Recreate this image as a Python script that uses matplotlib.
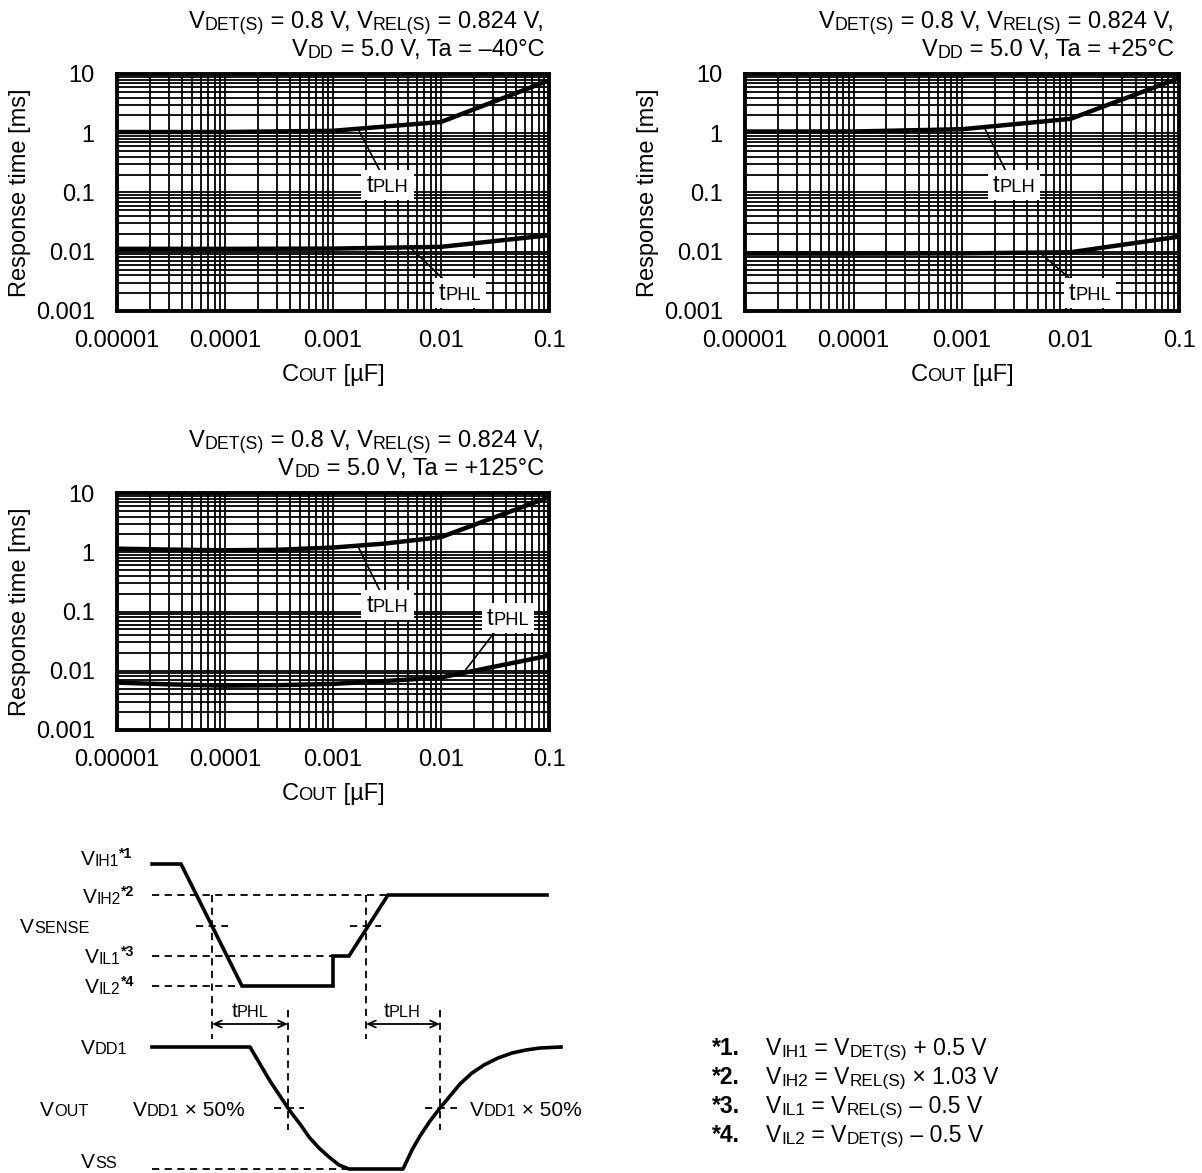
import numpy as np
import matplotlib
matplotlib.use('Agg')
import matplotlib.pyplot as plt
from matplotlib.font_manager import FontProperties
from matplotlib.transforms import IdentityTransform
from matplotlib.ticker import LogLocator, NullFormatter
from matplotlib.patches import Rectangle

FONT = 'Liberation Sans'
plt.rcParams['font.family'] = [FONT, 'DejaVu Sans']

W, H, DPI = 1202, 1173, 100

# ---------------- data ----------------
cout = [1e-5, 1e-4, 1e-3, 1e-2, 1e-1]
tplh_m40 = [1.05, 1.05, 1.1, 1.55, 7.8]
tphl_m40 = [0.0112, 0.0112, 0.0113, 0.0121, 0.019]
tplh_25 = [1.07, 1.07, 1.17, 1.75, 8.5]
tphl_25 = [0.0093, 0.0093, 0.0094, 0.0098, 0.018]
cout_125 = [1e-5, 3e-5, 1e-4, 3e-4, 1e-3, 3e-3, 1e-2, 1e-1]
tplh_125 = [1.15, 1.11, 1.08, 1.1, 1.2, 1.4, 1.8, 8.5]
tphl_125 = [0.0063, 0.0059, 0.0056, 0.0057, 0.006, 0.0067, 0.0077, 0.018]

xticks = [1e-5, 1e-4, 1e-3, 1e-2, 1e-1]
xticklabels = ['0.00001', '0.0001', '0.001', '0.01', '0.1']
yticks = [1e-3, 1e-2, 1e-1, 1, 10]
yticklabels = ['0.001', '0.01', '0.1', '1', '10']
temps = ['–40°C', '+25°C', '+125°C']

# waveform (schematic, pixel units)
vin_x = [152, 181, 242, 333, 333, 349, 388, 547]
vin_y = [864, 864, 986, 986, 956, 956, 895, 895]
vout_x = [152, 250, 260, 270, 280, 290, 300, 309, 319, 329, 339, 349,
          403, 412, 420, 430, 440, 450, 460, 472, 484, 498, 512, 526, 540, 561]
vout_y = [1047, 1047, 1064, 1081, 1096, 1111, 1124, 1137, 1148, 1157, 1165, 1169,
          1169, 1150, 1136, 1121, 1108, 1096, 1084, 1073, 1065, 1058, 1053, 1050, 1048, 1047]

fig = plt.figure(figsize=(W / DPI, H / DPI), dpi=DPI)
R = fig.canvas.get_renderer()


def _w(s, prop):
    a = R.get_text_width_height_descent('H' + s + 'H', prop, ismath=False)[0]
    b = R.get_text_width_height_descent('HH', prop, ismath=False)[0]
    return a - b


STY = {'n': (1.0, 'normal', 0.0), 's': (0.75, 'normal', -0.07),
       'c': (0.78, 'normal', 0.0), 'b': (1.0, 'bold', 0.0),
       'p': (0.68, 'bold', 0.36)}


def rich(x, y, segs, size, ha='left', box=False):
    """x, y: pixel position, y measured from top, y is baseline."""
    px = size * DPI / 72.0
    parts, total = [], 0.0
    for s, k in segs:
        sc, wt, dy = STY[k]
        prop = FontProperties(family=FONT, size=size * sc, weight=wt)
        w = _w(s, prop)
        parts.append((s, prop, dy * px, w))
        total += w
    x0 = x - total if ha == 'right' else (x - total / 2 if ha == 'center' else x)
    yb = H - y
    if box:
        pad = 5
        fig.add_artist(Rectangle((x0 - pad, yb - 0.25 * px - 2), total + 2 * pad,
                                 0.72 * px + 0.25 * px + 7, transform=IdentityTransform(),
                                 fc='white', ec='none', zorder=4))
    cx = x0
    for s, prop, dy, w in parts:
        fig.text(cx, yb + dy, s, fontproperties=prop, ha='left', va='baseline',
                 transform=IdentityTransform(), zorder=5)
        cx += w


FS = 17
panels = [
    dict(box=(117, 74, 549, 311), x=cout, plh=tplh_m40, phl=tphl_m40, t=temps[0],
         a_plh=((0.0017, 1.19), (0.0028, 0.21), (0.0032, 0.137)),
         a_phl=((0.0052, 0.0117), (0.011, 0.0032), (0.015, 0.0021))),
    dict(box=(745, 74, 1179, 311), x=cout, plh=tplh_25, phl=tphl_25, t=temps[1],
         a_plh=((0.0016, 1.27), (0.0026, 0.21), (0.003, 0.137)),
         a_phl=((0.0052, 0.0097), (0.0105, 0.0032), (0.0151, 0.0021))),
    dict(box=(117, 493, 549, 730), x=cout_125, plh=tplh_125, phl=tphl_125, t=temps[2],
         a_plh=((0.0017, 1.27), (0.0028, 0.2), (0.0032, 0.132)),
         a_phl=((0.016, 0.0091), (0.035, 0.058), (0.042, 0.08))),
]

for p in panels:
    l, t, r, b = p['box']
    ax = fig.add_axes([l / W, 1 - b / H, (r - l) / W, (b - t) / H])
    ax.set_xscale('log')
    ax.set_yscale('log')
    ax.set_xlim(1e-5, 1e-1)
    ax.set_ylim(1e-3, 10)
    ax.set_xticks(xticks)
    ax.set_xticklabels(xticklabels)
    ax.set_yticks(yticks)
    ax.set_yticklabels(yticklabels)
    ax.xaxis.set_minor_locator(LogLocator(base=10, subs=np.arange(2, 10), numticks=100))
    ax.yaxis.set_minor_locator(LogLocator(base=10, subs=np.arange(2, 10), numticks=100))
    ax.xaxis.set_minor_formatter(NullFormatter())
    ax.yaxis.set_minor_formatter(NullFormatter())
    ax.tick_params(which='both', length=0)
    ax.tick_params(axis='x', labelsize=FS, pad=14)
    ax.tick_params(axis='y', labelsize=FS, pad=16)
    for lab in ax.get_xticklabels() + ax.get_yticklabels():
        lab.set_fontfamily(FONT)
    ax.grid(True, which='both', color='black', lw=1.3)
    ax.set_axisbelow(True)
    for sp in ax.spines.values():
        sp.set_linewidth(2.8)
    ax.plot(p['x'], p['plh'], color='black', lw=3.2, zorder=3, solid_capstyle='butt')
    ax.plot(p['x'], p['phl'], color='black', lw=3.2, zorder=3, solid_capstyle='butt')
    for key, name in (('a_plh', 'PLH'), ('a_phl', 'PHL')):
        xy, end, lab = p[key]
        ax.annotate('', xy=xy, xytext=end,
                    arrowprops=dict(arrowstyle='-', lw=1.2, color='black',
                                    shrinkA=0, shrinkB=0), zorder=4)
        dx, dy = ax.transData.transform(lab)
        rich(dx, H - dy + 8, [('t', 'n'), (name, 'c')], FS, ha='center', box=True)
    # titles
    rich(r - 5, t - 46, [('V', 'n'), ('DET(S)', 's'), (' = 0.8 V, V', 'n'),
                         ('REL(S)', 's'), (' = 0.824 V,', 'n')], FS, ha='right')
    rich(r - 5, t - 18, [('V', 'n'), ('DD', 's'), (' = 5.0 V, Ta = ' + p['t'], 'n')],
         FS, ha='right')
    # x label
    rich((l + r) / 2, b + 70, [('C', 'n'), ('OUT', 'c'), (' [µF]', 'n')], FS, ha='center')
    # y label
    fig.text(l - 97, H - (t + b) / 2, 'Response time [ms]', rotation=90, ha='center',
             va='center', fontsize=FS, family=FONT, transform=IdentityTransform())

# ---------------- waveform diagram ----------------
aw = fig.add_axes([0, 0, 1, 1], zorder=-1)
aw.set_xlim(0, W)
aw.set_ylim(H, 0)
aw.axis('off')

lvl = dict(VIH1=864, VIH2=895, VSENSE=926, VIL1=956, VIL2=986, VDD1=1047, HALF=1108, VSS=1169)
dash = dict(color='black', lw=1.3, ls=(0, (4, 3)))
aw.plot([152, 388], [lvl['VIH2']] * 2, **dash)
aw.plot([152, 333], [lvl['VIL1']] * 2, **dash)
aw.plot([152, 242], [lvl['VIL2']] * 2, **dash)
aw.plot([152, 349], [lvl['VSS']] * 2, **dash)
aw.plot([196, 228], [lvl['VSENSE']] * 2, **dash)
aw.plot([350, 381], [lvl['VSENSE']] * 2, **dash)
aw.plot([274, 304], [lvl['HALF']] * 2, **dash)
aw.plot([425, 457], [lvl['HALF']] * 2, **dash)
aw.plot([212, 212], [895, 1039], **dash)
aw.plot([366, 366], [895, 1039], **dash)
aw.plot([288, 288], [1010, 1130], **dash)
aw.plot([440, 440], [1010, 1130], **dash)

aw.plot(vin_x, vin_y, color='black', lw=2.6, solid_joinstyle='miter')
aw.plot(vout_x, vout_y, color='black', lw=2.6)

for x1, x2 in ((212, 288), (366, 440)):
    aw.annotate('', xy=(x2, 1024), xytext=(x1, 1024),
                arrowprops=dict(arrowstyle='<->,head_length=0.55,head_width=0.25',
                                lw=1.3, color='black', shrinkA=0, shrinkB=0))

WS = 15
rich(81, 865, [('V', 'n'), ('IH1', 's'), ('*1', 'p')], WS)
rich(83, 903, [('V', 'n'), ('IH2', 's'), ('*2', 'p')], WS)
rich(20, 933, [('V', 'n'), ('SENSE', 'c')], WS)
rich(85, 963, [('V', 'n'), ('IL1', 's'), ('*3', 'p')], WS)
rich(85, 993, [('V', 'n'), ('IL2', 's'), ('*4', 'p')], WS)
rich(250, 1017, [('t', 'n'), ('PHL', 'c')], WS, ha='center')
rich(402, 1017, [('t', 'n'), ('PLH', 'c')], WS, ha='center')
rich(81, 1054, [('V', 'n'), ('DD1', 'c')], WS)
rich(40, 1116, [('V', 'n'), ('OUT', 'c')], WS)
rich(133, 1116, [('V', 'n'), ('DD1', 'c'), (' × 50%', 'n')], WS)
rich(470, 1116, [('V', 'n'), ('DD1', 'c'), (' × 50%', 'n')], WS)
rich(81, 1168, [('V', 'n'), ('SS', 'c')], WS)

# ---------------- footnotes ----------------
NS = 16.5
notes = [
    ('*1.', [('V', 'n'), ('IH1', 's'), (' = V', 'n'), ('DET(S)', 's'), (' + 0.5 V', 'n')]),
    ('*2.', [('V', 'n'), ('IH2', 's'), (' = V', 'n'), ('REL(S)', 's'), (' × 1.03 V', 'n')]),
    ('*3.', [('V', 'n'), ('IL1', 's'), (' = V', 'n'), ('REL(S)', 's'), (' – 0.5 V', 'n')]),
    ('*4.', [('V', 'n'), ('IL2', 's'), (' = V', 'n'), ('DET(S)', 's'), (' – 0.5 V', 'n')]),
]
for i, (star, segs) in enumerate(notes):
    yb = 1055 + i * 29
    rich(712, yb, [(star, 'b')], NS)
    rich(766, yb, segs, NS)

fig.savefig('out.png', dpi=DPI)
